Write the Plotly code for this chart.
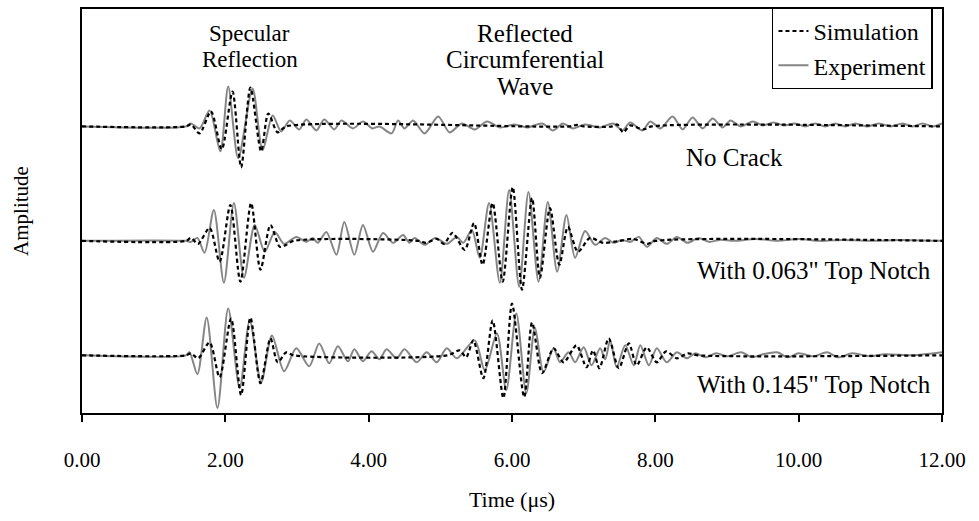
import plotly.graph_objects as go

# ---------------- data (times in microseconds, amplitudes in arbitrary units) ----------------
# No crack
nc_sim_t = [0, 1.45, 1.52, 1.64, 1.80, 1.95, 2.10, 2.22, 2.35, 2.50, 2.60, 2.73, 2.85,
            6.80, 6.91, 7.00, 7.40, 7.47, 7.55, 7.65, 7.83, 7.95, 12.0]
nc_sim_a = [0, 0, 2, -7, 15, -23, 35, -41, 39, -25, 13, -6, 0,
            0, 1.5, 0, 0, 2, -6, 1, -3, 0, 0]

nc_exp_t = [0, 1.45, 1.52, 1.64, 1.78, 1.93, 2.04, 2.18, 2.38, 2.52,
            2.66, 2.78, 2.90, 3.03, 3.13, 3.27, 3.38, 3.52, 3.62, 3.78,
            3.92, 4.05, 4.15, 4.32, 4.41, 4.50, 4.62, 4.78, 4.97, 5.13,
            5.30, 5.48, 5.65, 5.83, 6.04, 6.21, 6.42, 6.57, 6.71, 6.85,
            7.02, 7.23, 7.41, 7.54, 7.65, 7.82, 7.93, 8.07, 8.24, 8.38,
            8.52, 8.66, 8.80, 8.94, 9.05, 9.19, 9.36, 9.50, 9.65, 9.79,
            9.95, 10.09, 10.23, 10.37, 10.51, 10.65, 10.79, 10.95, 11.12, 11.28,
            11.45, 11.59, 11.73, 11.87, 12.0]
nc_exp_a = [0, 0, 3, -2, 16, -25, 40, -32, 38, -24,
            11, -5, 6, -3, 7, -4, 7, -3, 6, -2,
            5, -2, 0, -7, 6, -2, 6, -7, 10, -6,
            3, -3, 5, -1, 2, -1, 3, -4, 3, -2,
            2, -1, 3, -4, 4, -4, 5, -2, 10, -3,
            9, -2, 8, -1, 6, 0, 5, 1, 4, 1,
            3, 0, 3, 0, 3, 0, 3, 0, 3, 0,
            3, 0, 3, 0, 3]

# With 0.063" top notch
n1_sim_t = [0, 1.45, 1.52, 1.62, 1.78, 1.92, 2.07, 2.21, 2.36, 2.49,
            2.63, 2.76, 2.85, 2.95, 4.70, 4.80, 4.95, 5.05, 5.17, 5.34,
            5.47, 5.59, 5.73, 5.87, 6.01, 6.14, 6.28, 6.39, 6.53, 6.66,
            6.78, 6.92, 7.09, 7.27, 7.50, 7.69, 7.89, 8.00, 12.0]
n1_sim_a = [0, 0, 3, -3, 13, -21, 36, -41, 38, -29,
            16, -6, -4, 0, 0, -2, 2, -3, 8, -9,
            18, -24, 38, -41, 54, -49, 43, -37, 33, -24,
            14, -11, 3, -2, 0, 2, -3, 0, 0]

n1_exp_t = [0, 1.45, 1.52, 1.61, 1.71, 1.84, 1.98, 2.12, 2.26, 2.41,
            2.55, 2.69, 2.82, 2.99, 3.13, 3.22, 3.29, 3.41, 3.55, 3.66,
            3.80, 3.92, 4.06, 4.20, 4.34, 4.48, 4.57, 4.64, 4.78, 4.93,
            5.09, 5.23, 5.32, 5.44, 5.55, 5.68, 5.83, 5.96, 6.10, 6.23,
            6.37, 6.50, 6.63, 6.76, 6.88, 7.02, 7.16, 7.30, 7.42, 7.53,
            7.65, 7.77, 7.88, 8.02, 8.16, 8.30, 8.45, 8.60, 8.75, 8.90,
            9.10, 9.40, 9.70, 10.00, 10.30, 10.60, 11.00, 11.40, 12.0]
n1_exp_a = [0, 0, -1, 3, -12, 31, -42, 38, -37, 16,
            -11, 9, -3, 4, -1, 3, -2, 9, -14, 19,
            -14, 16, -11, 8, -2, 6, -2, 3, -4, 3,
            -3, 4, -2, 11, -17, 38, -42, 51, -46, 49,
            -41, 39, -31, 26, -17, 10, -4, 3, -2, 1,
            -1, 4, -6, 3, -3, 4, -2, 3, -1, 1,
            0, 2, 0, 2, 0, 1, 0, 1, 0]

# With 0.145" top notch
n2_sim_t = [0, 1.45, 1.52, 1.62, 1.78, 1.92, 2.08, 2.22, 2.35, 2.49,
            2.63, 2.73, 2.85, 2.95, 5.10, 5.27, 5.36, 5.46, 5.60, 5.73,
            5.88, 6.00, 6.17, 6.28, 6.42, 6.58, 6.72, 6.90, 7.04, 7.13,
            7.22, 7.35, 7.49, 7.63, 7.74, 7.88, 8.02, 8.15, 8.30, 8.45,
            8.60, 12.0]
n2_sim_a = [0, 0, 2, -3, 13, -22, 37, -40, 38, -28,
            17, -7, 3, 0, 0, 5, -2, 15, -23, 35,
            -43, 52, -42, 33, -18, 7, -7, 10, -12, 5,
            -13, 17, -13, 12, -10, 8, -7, 4, -3, 2,
            0, 0]

n2_exp_t = [0, 1.45, 1.50, 1.61, 1.74, 1.89, 2.04, 2.20, 2.34, 2.50,
            2.65, 2.82, 2.99, 3.17, 3.31, 3.45, 3.57, 3.71, 3.80, 3.92,
            4.04, 4.15, 4.25, 4.39, 4.50, 4.67, 4.81, 4.95, 5.09, 5.23,
            5.48, 5.62, 5.79, 5.92, 6.06, 6.20, 6.32, 6.44, 6.58, 6.67,
            6.79, 6.88, 7.00, 7.11, 7.23, 7.30, 7.37, 7.46, 7.58, 7.70,
            7.79, 7.91, 8.02, 8.16, 8.30, 8.44, 8.56, 8.70, 8.85, 9.00,
            9.20, 9.35, 9.50, 9.70, 9.85, 10.00, 10.20, 10.40, 10.55, 10.75,
            11.00, 11.20, 11.60, 12.0]
n2_exp_a = [0, 0, 3, -19, 38, -53, 47, -33, 35, -27,
            20, -16, 7, -11, 12, -8, 9, -6, 6, -6,
            4, -4, 6, -3, 6, -7, 3, -7, 7, -3,
            15, -15, 22, -35, 42, -38, 28, -17, 7, -7,
            3, -7, 8, -10, 7, -4, 15, -12, 10, -10,
            10, -10, 7, -7, 3, -3, 2, -2, 2, -1,
            3, -2, 1, 3, -2, 2, -1, 3, -2, 2,
            -1, 1, 0, 3]

case_labels = ["No Crack", 'With 0.063" Top Notch', 'With 0.145" Top Notch']
case_offsets = [2, 1, 0]
x_ticks = [0, 2, 4, 6, 8, 10, 12]

AMP_SCALE = 1 / 115.0
FONT = "Liberation Serif, Times New Roman, serif"

sims = [(nc_sim_t, nc_sim_a), (n1_sim_t, n1_sim_a), (n2_sim_t, n2_sim_a)]
exps = [(nc_exp_t, nc_exp_a), (n1_exp_t, n1_exp_a), (n2_exp_t, n2_exp_a)]

fig = go.Figure()

for i, ((et, ea), off) in enumerate(zip(exps, case_offsets)):
    assert len(et) == len(ea)
    fig.add_trace(go.Scatter(
        x=et, y=[off + a * AMP_SCALE for a in ea], mode="lines",
        line=dict(color="#858585", width=2, shape="spline", smoothing=0.8),
        name="Experiment", legendgroup="exp", showlegend=(i == 0), legendrank=2))

for i, ((st, sa), off) in enumerate(zip(sims, case_offsets)):
    assert len(st) == len(sa)
    fig.add_trace(go.Scatter(
        x=st, y=[off + a * AMP_SCALE for a in sa], mode="lines",
        line=dict(color="black", width=2.2, dash="4px,3px", shape="spline", smoothing=0.8),
        name="Simulation", legendgroup="sim", showlegend=(i == 0), legendrank=1))

ann = []
def txt(s, x, y, size, anchor="center"):
    ann.append(dict(text=s, x=x, y=y, xref="x", yref="y", showarrow=False,
                    xanchor=anchor, yanchor="middle", font=dict(family=FONT, size=size, color="black")))

txt("Specular", 2.34, 2.809, 23)
txt("Reflection", 2.34, 2.583, 23)
txt("Reflected", 6.18, 2.809, 25)
txt("Circumferential", 6.18, 2.583, 25)
txt("Wave", 6.18, 2.348, 25)
txt(case_labels[0], 9.11, 1.730, 25)
txt(case_labels[1], 11.87, 0.739, 25, "right")
txt(case_labels[2], 11.87, -0.252, 25, "right")

fig.update_layout(
    width=979, height=521,
    margin=dict(l=82, r=37, t=7, b=108),
    paper_bgcolor="white", plot_bgcolor="white",
    font=dict(family=FONT, size=21, color="black"),
    showlegend=True,
    legend=dict(x=0.9895, y=1.004, xanchor="right", yanchor="top",
                bordercolor="black", borderwidth=1.5, bgcolor="white",
                font=dict(family=FONT, size=24), tracegroupgap=0,
                itemwidth=30),
    annotations=ann,
    xaxis=dict(range=[0, 12], tickvals=x_ticks, tickformat=".2f",
               showline=True, linecolor="black", linewidth=2, mirror=True,
               ticks="outside", ticklen=7, tickwidth=2, tickcolor="black",
               ticklabelstandoff=20, showgrid=False, zeroline=False,
               tickfont=dict(family=FONT, size=21),
               title=dict(text="Time (μs)", standoff=20, font=dict(family=FONT, size=22))),
    yaxis=dict(range=[-0.504, 3.026], showticklabels=False, ticks="",
               showline=True, linecolor="black", linewidth=2, mirror=True,
               showgrid=False, zeroline=False,
               title=dict(text="Amplitude", standoff=46, font=dict(family=FONT, size=21))),
)

fig.write_html("out.html")
